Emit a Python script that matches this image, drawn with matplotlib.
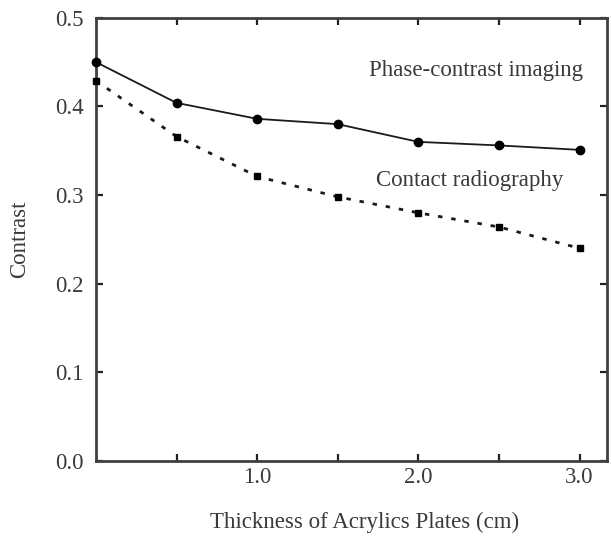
import matplotlib
matplotlib.use("Agg")
import matplotlib.pyplot as plt
from matplotlib.ticker import FixedLocator

plt.rcParams['font.family'] = ['Liberation Serif', 'DejaVu Serif']

thickness = [0.0, 0.5, 1.0, 1.5, 2.0, 2.5, 3.0]
phase_contrast = [0.450, 0.404, 0.386, 0.380, 0.360, 0.356, 0.351]
contact_radiography = [0.429, 0.366, 0.321, 0.298, 0.280, 0.264, 0.240]
xtick_labels = ["1.0", "2.0", "3.0"]
ytick_labels = ["0.0", "0.1", "0.2", "0.3", "0.4", "0.5"]

fig = plt.figure(figsize=(6.11, 5.38), dpi=100)
ax = fig.add_axes([0.157, 0.143, 0.8365, 0.824])

txt = '#3a3a3a'
fs = 16.5
ax.plot(thickness, phase_contrast, color='#1a1a1a', lw=1.3, marker='o', ms=6,
        mfc='black', mec='black', clip_on=False, zorder=3)
ax.plot(thickness, contact_radiography, color='#1a1a1a', lw=2.0, ls=(0, (1.6, 3.2)),
        marker='s', ms=4.5, mfc='black', mec='black', clip_on=False, zorder=3)

ax.set_xlim(0, 3.17)
ax.set_ylim(0, 0.5)
ax.xaxis.set_major_locator(FixedLocator([1.0, 2.0, 3.0]))
ax.set_xticklabels(xtick_labels)
ax.xaxis.set_minor_locator(FixedLocator([0.5, 1.5, 2.5]))
ax.yaxis.set_major_locator(FixedLocator([0.0, 0.1, 0.2, 0.3, 0.4, 0.5]))
ax.set_yticklabels(ytick_labels)

ax.tick_params(which='both', direction='in', top=True, right=True, length=5, width=1.6,
               labelsize=fs, labelcolor=txt, color='#222222')
ax.tick_params(axis='x', pad=4)
ax.tick_params(axis='y', pad=9)
for s in ax.spines.values():
    s.set_linewidth(2.0)
    s.set_color('#404040')

ax.text(3.02, 0.440, 'Phase-contrast imaging', fontsize=fs, color=txt,
        va='center', ha='right')
ax.text(2.90, 0.316, 'Contact radiography', fontsize=fs, color=txt,
        va='center', ha='right')

ax.set_xlabel('Thickness of Acrylics Plates (cm)', fontsize=fs, color=txt, labelpad=15)
ax.xaxis.set_label_coords(0.525, -0.115)
ax.set_ylabel('Contrast', fontsize=fs, color=txt, labelpad=18)

fig.savefig('out.png', dpi=100)
